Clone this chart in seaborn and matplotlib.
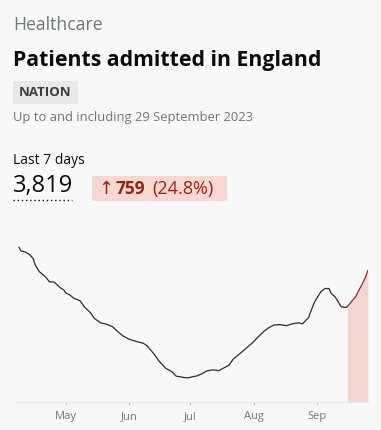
import seaborn as sns
import matplotlib.pyplot as plt
import matplotlib.dates as mdates
import pandas as pd
from matplotlib.patches import Rectangle
from matplotlib.lines import Line2D

# Daily patients admitted (7-day rolling)
start_date = '2023-04-08'
day_offsets = [0, 1, 3, 5, 7, 8, 10, 13, 15, 17, 18, 20, 22, 23, 25, 27, 30, 32, 35, 37,
               40, 43, 46, 48, 51, 54, 58, 61, 63, 66, 69, 72, 75, 77, 81, 83, 85, 87, 90, 92,
               95, 98, 100, 103, 105, 108, 112, 115, 117, 120, 122, 125, 128, 131, 134, 137, 139, 140,
               142, 143, 145, 147, 148, 150, 152, 153, 155, 157, 158, 160, 161, 163, 165, 166,
               168, 170, 171]
admissions = [608, 598, 595, 589, 577, 559, 541, 527, 513, 513, 509, 498, 491, 483, 477, 468, 461, 445, 429, 413,
              401, 397, 390, 379, 365, 356, 349, 345, 337, 317, 294, 276, 267, 255, 251, 250, 253, 255, 262, 269,
              272, 270, 276, 285, 301, 315, 334, 349, 361, 377, 386, 395, 396, 393, 398, 401, 398, 404,
              415, 431, 459, 477, 486, 495, 495, 482, 472, 454, 445, 443, 445, 459, 472, 483,
              504, 527, 544]
highlight_from = '2023-09-16'

df = pd.DataFrame({
    'date': pd.Timestamp(start_date) + pd.to_timedelta(day_offsets, unit='D'),
    'admissions': admissions,
})

bg = '#f8f8f8'
grey = '#6f777b'

sns.set_theme(style='white')
plt.rcParams['font.family'] = ['Open Sans', 'DejaVu Sans']

fig = plt.figure(figsize=(3.81, 4.30), dpi=100, facecolor=bg)
ax = fig.add_axes([0.039, 0.066, 0.928, 0.376])
ax.set_facecolor(bg)

ymin = 185
older = df[df['date'] <= highlight_from]
recent = df[df['date'] >= highlight_from]
ax.fill_between(recent['date'], ymin, recent['admissions'], color='#f4d6d1', lw=0)
sns.lineplot(data=older, x='date', y='admissions', color='#2b2b2b', lw=0.9, ax=ax)
sns.lineplot(data=recent, x='date', y='admissions', color='#8f2a1a', lw=0.9, ax=ax)

ax.set_ylim(ymin, 628)
ax.set_xlim(pd.Timestamp('2023-04-06'), pd.Timestamp('2023-09-26 08:00'))
ax.xaxis.set_major_locator(mdates.MonthLocator())
ax.xaxis.set_major_formatter(mdates.DateFormatter('%b'))
ax.set_yticks([])
ax.set_xlabel('')
ax.set_ylabel('')
ax.tick_params(axis='x', bottom=True, length=2, width=0.8, color='#bbbbbb',
               labelsize=8, labelcolor=grey, pad=5)
for side in ['top', 'left', 'right']:
    ax.spines[side].set_visible(False)
ax.spines['bottom'].set_color('#e6e6e6')
ax.spines['bottom'].set_linewidth(0.8)

# Header
x0 = 13 / 381
fig.text(x0, 0.943, 'Healthcare', color=grey, fontsize=12.7, va='center')
fig.text(x0, 0.847, 'Patients admitted in England', color='#0b0c0c', fontsize=15.3,
         fontweight='bold', va='baseline')
fig.add_artist(Rectangle((x0, 0.758), 0.171, 0.054, transform=fig.transFigure,
                         facecolor='#e8e8e8', edgecolor='none'))
fig.text(0.119, 0.785, 'NATION', color='#383f43', fontsize=9.5, fontweight='bold',
         ha='center', va='center')
fig.text(x0, 0.726, 'Up to and including 29 September 2023', color=grey, fontsize=9.4, va='center')

fig.text(x0, 0.626, 'Last 7 days', color='#0b0c0c', fontsize=10, va='center')
fig.text(x0, 0.567, '3,819', color='#0b0c0c', fontsize=17, va='center')
fig.add_artist(Line2D([x0, 72 / 381], [0.534, 0.534], transform=fig.transFigure,
                      color='#0b0c0c', lw=1, linestyle=(0, (1, 2))))

fig.add_artist(Rectangle((92 / 381, 0.5326), 0.354, 0.058, transform=fig.transFigure,
                         facecolor='#f6d7d2', edgecolor='none'))
red = '#942514'
fig.text(98 / 381, 0.5616, '↑', color=red, fontsize=13, va='center')
fig.text(115 / 381, 0.5616, '759', color=red, fontsize=12.5, fontweight='bold', va='center')
fig.text(152 / 381, 0.5616, '(24.8%)', color=red, fontsize=13, va='center')

plt.savefig('out.png', dpi=100, facecolor=bg)
